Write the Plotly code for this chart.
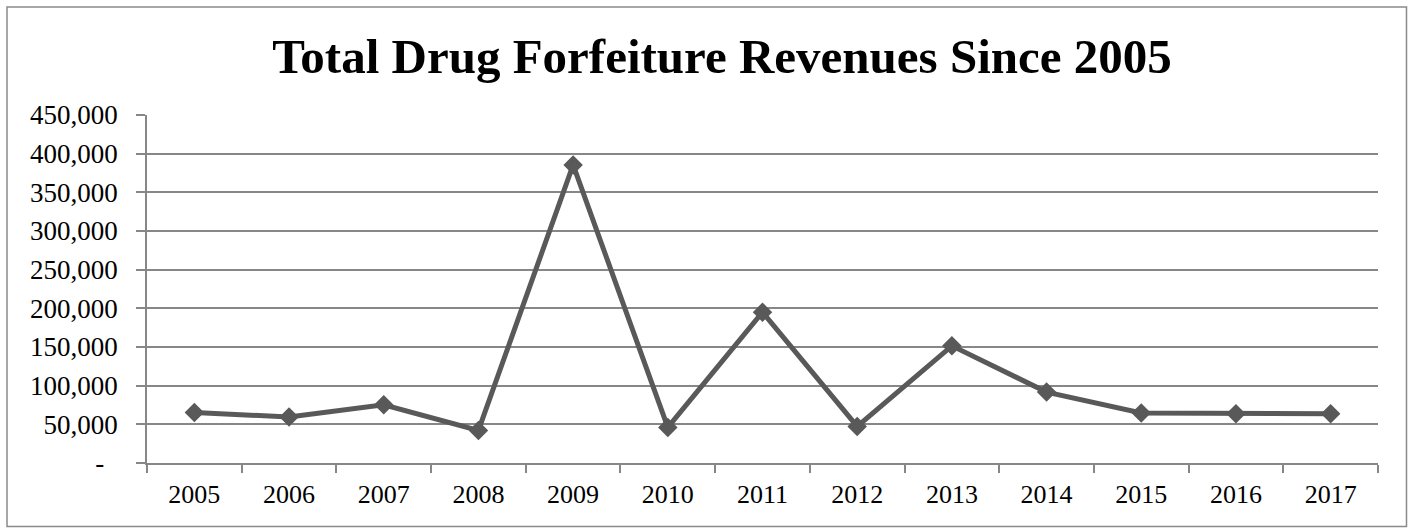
import plotly.graph_objects as go

# Drug forfeiture revenues by year
years = ["2005", "2006", "2007", "2008", "2009", "2010", "2011",
         "2012", "2013", "2014", "2015", "2016", "2017"]
revenues = [65400, 59400, 75300, 42100, 385400, 46000, 195000,
            47300, 151500, 91700, 64600, 63700, 63700]

y_tickvals = [0, 50000, 100000, 150000, 200000, 250000, 300000,
              350000, 400000, 450000]
y_ticktext = ["-\u00a0\u00a0", "50,000", "100,000", "150,000", "200,000",
              "250,000", "300,000", "350,000", "400,000", "450,000"]

FONT = "Liberation Serif, Times New Roman, serif"
GRID = "#878787"
LINE = "#595959"

W, H = 1411, 529
L, R, T, B = 147, 33, 115, 66

fig = go.Figure()
fig.add_trace(go.Scatter(
    x=years, y=revenues, mode="lines+markers",
    line=dict(color=LINE, width=5),
    marker=dict(symbol="diamond", size=15, color=LINE),
    hoverinfo="x+y",
))

pw = W - L - R
ph = H - T - B
# outer frame around the whole chart
fig.add_shape(type="rect", xref="paper", yref="paper",
              x0=(7 - L) / pw, x1=(1406.5 - L) / pw,
              y0=-(526.5 - (H - B)) / ph, y1=1 + (T - 7) / ph,
              line=dict(color="#8a8a8a", width=1.5), layer="below")

fig.update_layout(
    width=W, height=H,
    margin=dict(l=L, r=R, t=T, b=B),
    paper_bgcolor="white", plot_bgcolor="white",
    showlegend=False,
    font=dict(family=FONT, color="black", size=27),
    title=dict(text="<b>Total Drug Forfeiture Revenues Since 2005</b>",
               font=dict(family=FONT, size=49, color="black"),
               x=722 / W, xanchor="center", xref="container",
               y=1 - 56 / H, yanchor="middle", yref="container"),
    xaxis=dict(
        type="category", tickson="boundaries",
        range=[-0.5, len(years) - 0.5],
        ticks="outside", ticklen=8, tickwidth=1.5, tickcolor=GRID,
        showline=True, linecolor=GRID, linewidth=1.5,
        showgrid=False, zeroline=False,
        tickfont=dict(family=FONT, size=26, color="black"),
        ticklabelstandoff=7,
    ),
    yaxis=dict(
        range=[0, 450000],
        tickvals=y_tickvals, ticktext=y_ticktext,
        ticks="outside", ticklen=9, tickwidth=1.5, tickcolor=GRID,
        showline=True, linecolor=GRID, linewidth=1.5,
        showgrid=True, gridcolor=GRID, gridwidth=1.5,
        zeroline=False,
        tickfont=dict(family=FONT, size=27, color="black"),
        ticklabelstandoff=13,
    ),
)

fig.write_html("out.html")
